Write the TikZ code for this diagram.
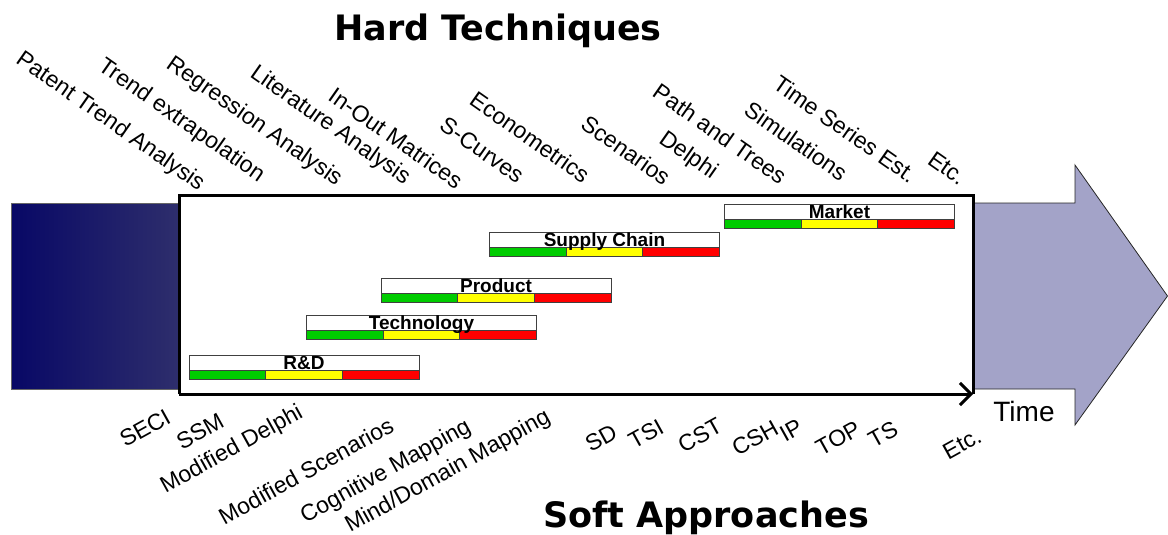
\documentclass[tikz,border=0pt]{standalone}
\usepackage{fontspec}
\setmainfont{Liberation Sans}
\newfontfamily\titlefont{DejaVu Sans}
\usetikzlibrary{arrows.meta}
\definecolor{bgreen}{RGB}{0,204,0}
\definecolor{byellow}{RGB}{255,255,0}
\definecolor{bred}{RGB}{255,0,0}
\definecolor{arrowc}{RGB}{163,163,200}
\definecolor{navyL}{RGB}{8,8,102}
\definecolor{navyR}{RGB}{46,46,108}
\newcommand\gbar[4]{%
  \node[wbox] (#1) at (#2,#3) {};
  \node[cbox, fill=bgreen] (#1g) at (#2,#3+15.5) {};
  \node[cbox, fill=byellow] (#1y) at (#2+76.67,#3+15.5) {};
  \node[cbox, fill=bred] (#1r) at (#2+153.33,#3+15.5) {};
  \node[barlabel] (#1l) at (#2+115,#3+14.5) {#4};
}
\begin{document}
\begin{tikzpicture}[x=1pt,y=-1pt,
  lbl/.style={font=\fontsize{23}{27}\selectfont, inner sep=0pt},
  toplbl/.style={lbl, rotate=-35},
  botlbl/.style={lbl, rotate=29},
  title/.style={font=\titlefont\bfseries\fontsize{35}{40}\selectfont, inner sep=0pt},
  wbox/.style={draw=black!75, line width=1pt, fill=white, anchor=north west, minimum width=230pt, minimum height=15.5pt, inner sep=0pt, outer sep=0pt},
  cbox/.style={draw=black!75, line width=1pt, anchor=north west, minimum width=76.67pt, minimum height=9pt, inner sep=0pt, outer sep=0pt},
  barlabel/.style={font=\bfseries\fontsize{19}{22}\selectfont, anchor=base, inner sep=0pt},
  frameline/.style={line width=3pt},
]
\useasboundingbox (0,0) rectangle (1168,535);

% big time arrow
\draw[fill=arrowc, draw=black!85, line width=0.8pt] (960,203) -- (1075,203) -- (1075,165) -- (1167.5,296) -- (1075,425) -- (1075,389) -- (960,389) -- cycle;
% dark past block
\shade[left color=navyL, right color=navyR] (11,203) rectangle (180,389);
\draw[black!60, line width=0.8pt] (11,203) rectangle (180,389);

% frame
\node[fill=white, anchor=north west, minimum width=794pt, minimum height=199pt, inner sep=0pt, outer sep=0pt] (frame) at (179,195) {};
\draw[frameline] (frame.south west) -- (frame.north west) -- (frame.north east) -- (frame.south east);
\draw[frameline, -{Straight Barb[length=11pt,width=22pt,line width=3pt]}] (frame.south west) -- (frame.south east);

% bars
\gbar{rd}{189}{355}{R\&D}
\gbar{tech}{306.5}{315}{Technology}
\gbar{prod}{381}{278}{Product}
\gbar{supp}{489.5}{232}{Supply Chain}
\gbar{mkt}{724.5}{204}{Market}

% titles
\node[title] (hard) at (498,31) {Hard Techniques};
\node[title] (soft) at (706,518) {Soft Approaches};
\node[lbl, font=\fontsize{28}{32}\selectfont] (time) at (1024,411) {Time};

% hard techniques
\node[toplbl] (t1) at (110,122) {Patent Trend Analysis};
\node[toplbl] (t2) at (181,121) {Trend extrapolation};
\node[toplbl] (t3) at (254,122) {Regression Analysis};
\node[toplbl] (t4) at (330,126) {Literature Analysis};
\node[toplbl] (t5) at (396,138) {In-Out Matrices};
\node[toplbl] (t6) at (482,150) {S-Curves};
\node[toplbl] (t7) at (530,137) {Econometrics};
\node[toplbl] (t8) at (626,150) {Scenarios};
\node[toplbl] (t9) at (688,156) {Delphi};
\node[toplbl] (t10) at (720,134) {Path and Trees};
\node[toplbl] (t11) at (796,141) {Simulations};
\node[toplbl] (t12) at (845,129) {Time Series Est.};
\node[toplbl] (t13) at (947,168) {Etc.};

% soft approaches
\node[botlbl] (b1) at (145,428) {SECI};
\node[botlbl] (b2) at (200,431) {SSM};
\node[botlbl] (b3) at (232,450) {Modified Delphi};
\node[botlbl] (b4) at (306,471) {Modified Scenarios};
\node[botlbl] (b5) at (386,472) {Cognitive Mapping};
\node[botlbl] (b6) at (448,472) {Mind/Domain Mapping};
\node[botlbl] (b7) at (601,438) {SD};
\node[botlbl] (b8) at (646,434) {TSI};
\node[botlbl] (b9) at (700,435) {CST};
\node[botlbl] (b10) at (755,438) {CSH};
\node[botlbl] (b11) at (791,430) {IP};
\node[botlbl] (b12) at (838,438) {TOP};
\node[botlbl] (b13) at (883,434) {TS};
\node[botlbl] (b14) at (962,444) {Etc.};
\end{tikzpicture}
\end{document}
